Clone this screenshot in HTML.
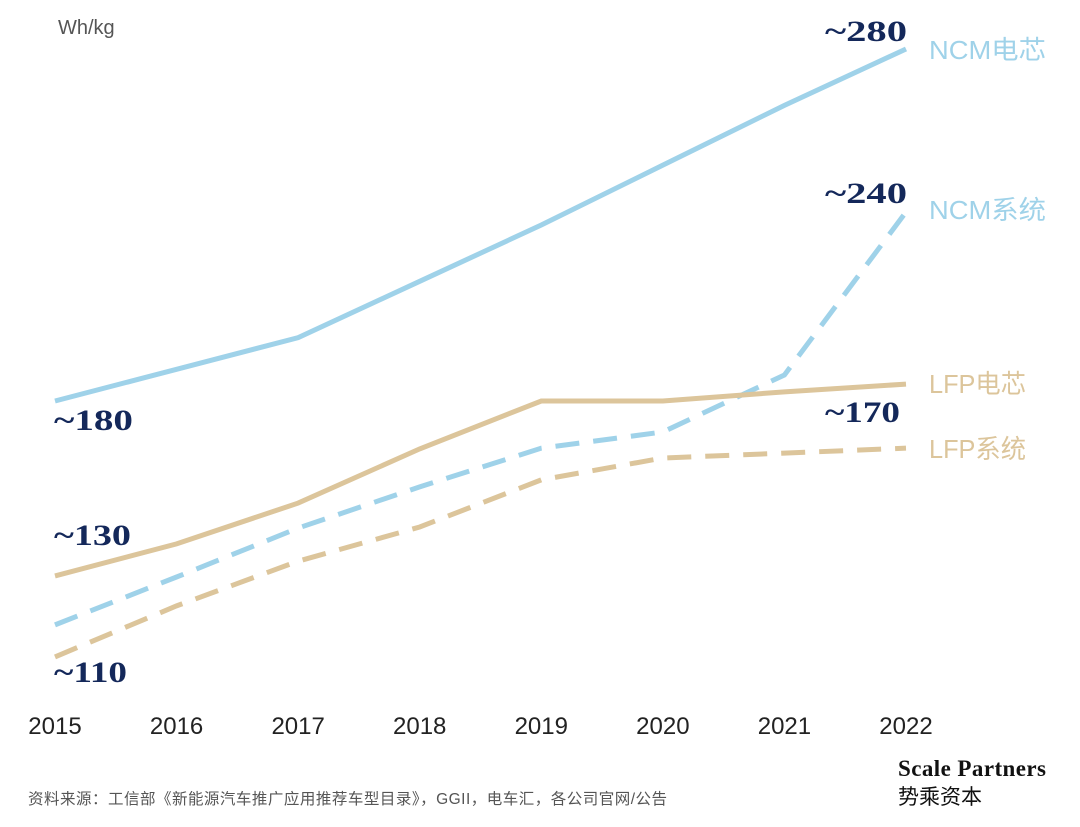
<!DOCTYPE html>
<html><head><meta charset="utf-8"><style>
body{margin:0;background:#fff;}
svg text{font-family:"Liberation Sans","Noto Sans CJK SC",sans-serif;}
.v{font-family:"Liberation Serif",serif;font-weight:bold;font-size:30px;fill:#14285a;}
</style></head><body>
<svg id="c" width="1080" height="822">
<text x="58" y="34" font-size="20" fill="#555">Wh/kg</text>
<g id="lines"></g>
<g id="labels"></g>
<text x="898" y="776" font-weight="bold" font-size="23" fill="#111" textLength="148" style="font-family:'Liberation Serif',serif">Scale Partners</text>
<text x="898" y="804" font-size="21" fill="#111">势乘资本</text>
<text x="28" y="804" font-size="15.5" fill="#555" textLength="639">资料来源：工信部《新能源汽车推广应用推荐车型目录》，GGII，电车汇，各公司官网/公告</text>
</svg>
<script>
const years=[2015,2016,2017,2018,2019,2020,2021,2022];
const ncmCell=[180,189,198,214,230,247,264,280];
const ncmSys=[116.4,130,143.9,155.6,166.6,171.2,187.4,233.7];
const lfpCell=[130.3,139.4,151,166.4,180,180,182.6,184.8];
const lfpSys=[107.3,121.8,134.5,144.2,157.6,163.8,165.2,166.6];
const ns='http://www.w3.org/2000/svg';
const xs=i=>55+i*(906-55)/7;
const ys=v=>401-(v-180)*3.52;
const g=document.getElementById('lines'),L=document.getElementById('labels');
function line(d,col,dash,name){
 const p=document.createElementNS(ns,'polyline');
 p.setAttribute('points',d.map((v,i)=>xs(i)+','+ys(v)).join(' '));
 p.setAttribute('fill','none');p.setAttribute('stroke',col);p.setAttribute('stroke-width','5');
 if(dash)p.setAttribute('stroke-dasharray','24 14');
 
 
 g.appendChild(p);
}
line(ncmCell,'#9fd2e9',false,'ncm-cell-line');
line(ncmSys,'#9fd2e9',true,'ncm-system-line');
line(lfpCell,'#dcc59b',false,'lfp-cell-line');
line(lfpSys,'#dcc59b',true,'lfp-system-line');
function txt(x,y,s,cls,fill,size,name,anchor,len){
 const t=document.createElementNS(ns,'text');
 t.setAttribute('x',x);t.setAttribute('y',y);t.textContent=s;
 if(cls)t.setAttribute('class',cls);
 if(fill)t.setAttribute('fill',fill);
 if(size)t.setAttribute('font-size',size);
 if(anchor)t.setAttribute('text-anchor',anchor);
 if(len){t.setAttribute('textLength',len);t.setAttribute('lengthAdjust','spacingAndGlyphs');}
 
 
 L.appendChild(t);return t;
}
years.forEach((y,i)=>{
 txt(xs(i),734,y,null,'#222',24,'x-tick-'+y,'middle');
});
txt(929,59,'NCM电芯',null,'#9fd2e9',26,'legend-ncm-cell',null,117);
txt(929,219,'NCM系统',null,'#9fd2e9',26,'legend-ncm-system',null,117);
txt(929,393,'LFP电芯',null,'#dcc59b',26,'legend-lfp-cell',null,97);
txt(929,458,'LFP系统',null,'#dcc59b',26,'legend-lfp-system',null,97);
txt(825,41,'~280','v',null,null,'value-ncm-cell-2022',null,82);
txt(825,203,'~240','v',null,null,'value-ncm-system-2022',null,82);
txt(825,422,'~170','v',null,null,'value-lfp-system-2022',null,75);
txt(54,430,'~180','v',null,null,'value-ncm-cell-2015',null,79);
txt(54,545,'~130','v',null,null,'value-lfp-cell-2015',null,77);
txt(54,682,'~110','v',null,null,'value-lfp-system-2015',null,73);
</script>
</body></html>
